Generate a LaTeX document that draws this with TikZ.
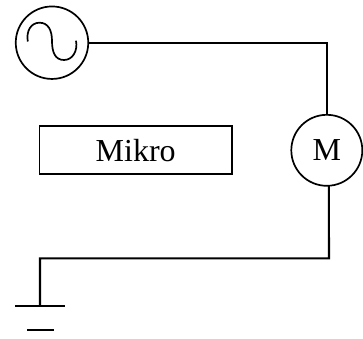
\documentclass[tikz,border=0pt]{standalone}
\usepackage{fontspec}
\setmainfont{Liberation Serif}
\tikzset{
  wire/.style={line width=1.7pt,black},
  heavywire/.style={line width=2.1pt,black},
  symb/.style={draw,circle,line width=1.7pt,inner sep=0pt,outer sep=0pt},
  boxn/.style={draw,rectangle,line width=1.9pt,inner sep=0pt,outer sep=0pt,minimum width=192.5pt,minimum height=48pt}
}
\begin{document}
\begin{tikzpicture}[x=1pt,y=-1pt]
\useasboundingbox (0,0) rectangle (363,338);
\node[symb,minimum size=72.5pt] (src) at (52,42.7) {};
\node[symb,minimum size=71pt,font=\fontsize{32}{32}\selectfont] (mot) at (326.8,150.3) {M};
\node[boxn,font=\fontsize{32}{32}\selectfont] (mik) at (135.7,150.3) {Mikro};
\coordinate (gnd) at (40,306);
\coordinate (gl) at (15,306);
\coordinate (gr) at (65,306);
\coordinate (hl) at (27,330);
\coordinate (hr) at (54,330);
\coordinate (turn) at (329,258.3);
\draw[wire] (src.east) -- (src.east -| mot.north) -- (mot.north);
\draw[heavywire] ([xshift=2pt]mot.south) -- (turn) -- (turn -| gnd) -- (gnd);
\draw[wire] (gl) -- (gr);
\draw[wire] (hl) -- (hr);
\draw[wire] (27.8,41.5) .. controls (26,31) and (31,22.7) .. (39.5,22.7)
  .. controls (48,22.7) and (52,30) .. (52,41)
  .. controls (52,52) and (55,60) .. (64,60)
  .. controls (72.5,60) and (78,51) .. (76,40.7);
\end{tikzpicture}
\end{document}
